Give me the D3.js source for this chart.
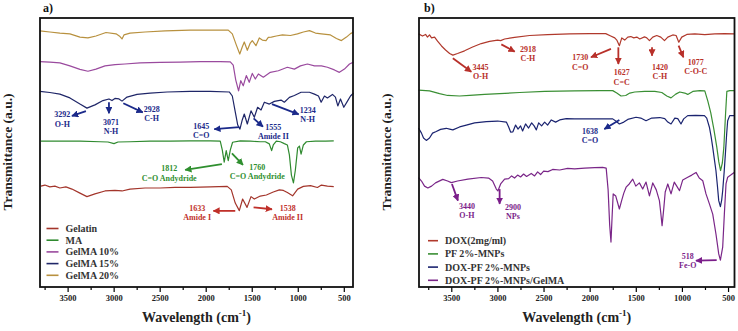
<!DOCTYPE html>
<html>
<head>
<meta charset="utf-8">
<script src="https://cdn.jsdelivr.net/npm/d3@7"></script>
<style>
  body { margin: 0; background: #fff; }
  svg text { font-family: "Liberation Serif", "Times New Roman", serif; font-weight: bold; }
</style>
</head>
<body>
<div id="chart"></div>
<script>
// ---- panel a) spectra: [wavenumber, transmittance a.u.]
const gelatin = [[3790,37.5],[3747,37.9],[3693,37.2],[3638,37.5],[3584,36.8],[3519,37.2],[3453,36.4],[3366,34.9],[3290,33.6],[3203,34.6],[3094,35.7],[2986,35.9],[2909,35.7],[2822,36.4],[2659,36.8],[2495,36.8],[2332,37.0],[2169,37.0],[1951,37.2],[1766,37.4],[1722,36.1],[1679,31.2],[1635,28.4],[1599,32.7],[1551,29.6],[1508,33.6],[1472,32.7],[1407,33.8],[1341,34.2],[1266,35.3],[1200,36.1],[1156,35.9],[1113,35.1],[1056,33.9],[1001,36.4],[939,37.4],[862,37.7],[786,37.0],[743,37.9],[678,37.5],[609,37.3]];
const ma = [[3790,54.2],[3584,54.2],[3366,54.2],[3148,54.0],[3062,53.9],[2996,53.3],[2953,53.9],[2822,54.0],[2604,54.2],[2386,54.2],[2169,54.3],[1951,54.3],[1842,54.2],[1820,51.0],[1799,46.4],[1777,50.7],[1755,47.0],[1733,50.9],[1708,53.8],[1624,54.3],[1516,54.2],[1407,54.0],[1352,54.0],[1309,53.2],[1284,50.7],[1266,52.8],[1233,54.2],[1189,54.0],[1146,53.3],[1113,52.8],[1091,49.1],[1069,41.6],[1047,38.7],[1026,43.5],[1001,51.7],[982,52.4],[964,49.4],[939,52.8],[906,54.0],[808,54.2],[699,54.2],[609,54.3]];
const gelma10 = [[3801,83.8],[3693,83.6],[3584,83.3],[3475,82.2],[3366,80.9],[3279,80.2],[3192,81.0],[3094,82.2],[2985,82.7],[2877,82.9],[2713,83.3],[2495,83.5],[2278,83.6],[2060,83.8],[1842,83.8],[1733,83.7],[1701,82.5],[1674,77.0],[1643,72.9],[1619,76.7],[1592,74.8],[1559,78.6],[1527,76.1],[1494,79.4],[1461,77.3],[1428,79.2],[1374,78.0],[1298,79.8],[1211,80.4],[1113,81.7],[1037,81.0],[971,82.2],[895,82.9],[819,82.2],[743,82.2],[678,81.7],[602,80.7],[548,79.8],[493,81.0],[438,82.9],[394,83.6]];
const gelma15 = [[3801,72.7],[3693,72.3],[3584,71.7],[3475,70.3],[3366,68.0],[3290,66.5],[3203,67.7],[3116,69.3],[3051,69.9],[3018,69.3],[2986,70.1],[2942,69.9],[2909,69.1],[2855,70.6],[2746,71.6],[2604,72.1],[2419,72.5],[2169,72.7],[1951,72.7],[1744,72.5],[1711,71.0],[1679,65.1],[1652,60.2],[1628,58.7],[1603,62.1],[1581,64.3],[1548,60.6],[1508,65.5],[1472,63.1],[1436,66.8],[1399,65.8],[1363,68.7],[1309,68.0],[1254,69.0],[1182,69.5],[1146,68.7],[1091,70.5],[1037,71.2],[964,72.4],[873,72.4],[819,71.7],[775,71.0],[746,68.7],[710,71.0],[678,70.3],[623,71.6],[591,70.6],[565,67.3],[536,69.9],[500,66.8],[460,69.1],[427,71.0],[394,72.1]];
const gelma20 = [[3801,95.2],[3693,94.8],[3584,94.4],[3475,94.1],[3366,92.9],[3279,92.6],[3192,93.3],[3083,94.6],[2974,94.1],[2931,93.1],[2909,92.2],[2888,93.7],[2822,94.4],[2659,94.8],[2441,95.2],[2169,95.5],[1951,95.5],[1755,95.5],[1711,94.1],[1668,90.0],[1630,86.6],[1603,89.2],[1581,91.1],[1548,88.0],[1516,90.7],[1494,91.6],[1454,89.7],[1418,92.6],[1385,91.8],[1345,91.6],[1320,92.8],[1287,92.9],[1233,93.3],[1167,93.7],[1080,93.5],[1004,94.1],[939,94.8],[873,95.3],[808,94.4],[743,94.1],[645,93.7],[580,92.4],[526,91.6],[471,92.9],[427,94.2],[394,94.8]];

// ---- panel b) spectra
const dox = [[3855,94.1],[3812,93.3],[3779,93.9],[3758,92.9],[3736,93.7],[3714,92.6],[3681,92.9],[3649,91.4],[3606,89.6],[3562,88.1],[3518,86.8],[3483,86.2],[3432,86.8],[3356,87.8],[3269,89.2],[3175,90.5],[3085,91.3],[2998,91.8],[2965,91.6],[2922,92.2],[2814,92.8],[2651,93.5],[2456,93.8],[2217,94.1],[2000,94.2],[1826,94.2],[1772,93.3],[1728,92.6],[1706,91.8],[1678,89.7],[1652,92.6],[1620,91.8],[1587,92.9],[1554,93.1],[1522,92.6],[1489,92.9],[1457,92.2],[1406,93.0],[1381,92.6],[1352,91.6],[1316,92.9],[1273,93.5],[1229,92.9],[1189,91.6],[1153,92.9],[1099,93.7],[1063,93.5],[1034,91.0],[1002,92.9],[947,93.9],[860,94.1],[752,93.8],[643,94.1],[535,94.2],[433,94.1]];
const pfMnp = [[3855,73.2],[3736,72.9],[3627,71.9],[3540,71.2],[3410,71.0],[3301,71.2],[3139,71.6],[2976,71.9],[2759,72.3],[2488,72.7],[2163,72.9],[1891,73.0],[1750,73.0],[1706,72.1],[1660,71.0],[1609,71.2],[1565,72.1],[1511,72.5],[1403,72.7],[1294,72.7],[1218,72.3],[1164,71.0],[1118,70.3],[1067,71.7],[1023,72.5],[969,72.1],[937,71.6],[882,72.7],[806,73.0],[752,72.9],[719,69.1],[687,64.7],[654,58.7],[622,52.0],[600,46.5],[581,43.3],[562,46.1],[546,51.7],[527,64.3],[513,72.7],[481,73.0],[433,73.0]];
const doxPf = [[3855,59.1],[3823,57.2],[3801,55.4],[3771,54.5],[3736,55.4],[3703,57.2],[3663,57.8],[3616,58.6],[3554,59.0],[3518,58.7],[3483,58.4],[3410,59.5],[3337,60.2],[3247,61.0],[3120,61.5],[2998,61.7],[2903,61.3],[2878,59.5],[2857,57.6],[2832,57.7],[2803,60.2],[2776,58.7],[2749,59.9],[2727,58.0],[2695,60.6],[2662,59.1],[2629,61.0],[2602,59.9],[2578,58.4],[2553,61.0],[2521,59.9],[2488,61.3],[2456,60.2],[2416,62.1],[2369,61.3],[2325,62.1],[2253,62.6],[2163,62.5],[2000,62.5],[1837,62.5],[1750,62.5],[1717,61.7],[1678,60.6],[1630,61.3],[1587,62.3],[1497,63.1],[1446,62.8],[1389,61.8],[1327,62.8],[1240,63.0],[1186,62.6],[1153,61.3],[1118,60.6],[1077,62.8],[1045,62.6],[1010,60.6],[981,62.5],[937,63.7],[850,63.8],[756,63.7],[731,62.8],[702,59.4],[683,55.8],[666,51.9],[650,47.9],[631,43.2],[616,37.9],[601,32.1],[583,29.9],[569,32.3],[558,35.8],[542,42.8],[529,49.4],[515,56.9],[504,61.8],[482,63.7],[433,63.7]];
const doxPfGelma = [[3855,40.7],[3823,39.4],[3790,37.5],[3754,36.8],[3714,37.5],[3671,38.7],[3592,40.0],[3540,39.4],[3500,38.8],[3432,39.4],[3320,40.1],[3175,40.7],[3096,40.5],[3052,39.4],[3012,36.4],[2995,35.7],[2965,38.3],[2922,40.1],[2878,40.3],[2846,41.3],[2814,40.5],[2781,41.6],[2749,40.9],[2716,42.0],[2684,41.1],[2633,42.2],[2597,41.3],[2564,42.8],[2532,41.8],[2499,43.1],[2452,42.9],[2401,43.7],[2325,43.5],[2239,44.1],[2163,43.9],[2054,44.2],[1946,44.4],[1859,44.5],[1821,44.2],[1800,36.1],[1783,23.0],[1769,16.7],[1756,26.8],[1745,34.6],[1717,33.8],[1678,29.0],[1652,32.3],[1630,34.9],[1605,37.1],[1571,38.3],[1533,40.1],[1500,37.5],[1461,38.7],[1425,36.4],[1389,39.0],[1352,33.9],[1316,38.7],[1278,36.1],[1244,32.1],[1229,27.5],[1215,22.8],[1196,29.4],[1181,35.3],[1153,38.3],[1118,34.6],[1083,39.0],[1056,37.5],[1026,35.8],[991,39.8],[937,40.8],[893,41.6],[847,42.6],[812,40.5],[774,39.5],[739,34.6],[702,30.9],[666,27.1],[631,19.7],[601,12.3],[583,10.0],[558,14.8],[540,27.1],[522,38.3],[504,40.8],[471,41.6],[433,42.6]];

const namesA = ["Gelatin", "MA", "GelMA 10%", "GelMA 15%", "GelMA 20%"];
const namesB = ["DOX(2mg/ml)", "PF 2%-MNPs", "DOX-PF 2%-MNPs", "DOX-PF 2%-MNPs/GelMA"];
const majorTicks = [3500, 3000, 2500, 2000, 1500, 1000, 500];
const minorTicks = [3750, 3250, 2750, 2250, 1750, 1250, 750];

// peak labels: text lines, label anchor and arrow (from, to) in data units
const notesA = [
  { t: ["3292", "O-H"], at: [3557, 64.3], from: [3301, 65.4], to: [3453, 63.6], c: "#1b2a8a" },
  { t: ["3071", "N-H"], at: [3029, 61.4], from: [3051, 68.7], to: [3051, 64.6], c: "#1b2a8a" },
  { t: ["2928", "C-H"], at: [2587, 66.2], from: [2895, 68.3], to: [2684, 64.9], c: "#1b2a8a" },
  { t: ["1645", "C=O"], at: [2049, 60.0], from: [1635, 59.4], to: [1907, 58.7], c: "#1b2a8a" },
  { t: ["1555", "Amide II"], at: [1265, 59.6], from: [1480, 62.7], to: [1378, 59.6], c: "#1b2a8a" },
  { t: ["1234", "N-H"], at: [892, 65.8], from: [1280, 68.0], to: [990, 64.2], c: "#1b2a8a" },
  { t: ["1812", "C=O Andydride"], at: [2397, 44.1], from: [1824, 45.7], to: [2223, 43.5], c: "#2f8f2f" },
  { t: ["1760", "C=O Andydride"], at: [1440, 44.7], from: [1715, 49.7], to: [1595, 45.4], c: "#2f8f2f" },
  { t: ["1633", "Amide I"], at: [2093, 29.5], from: [1679, 28.3], to: [1917, 28.3], c: "#c0302a" },
  { t: ["1538", "Amide II"], at: [1110, 29.5], from: [1480, 29.6], to: [1280, 28.9], c: "#c0302a" }
];
const notesB = [
  { t: ["3445", "O-H"], at: [3182, 81.8], from: [3483, 85.0], to: [3283, 80.0], c: "#b8302a" },
  { t: ["2918", "C-H"], at: [2669, 88.5], from: [2958, 90.2], to: [2813, 87.5], c: "#b8302a" },
  { t: ["1730", "C=O"], at: [2103, 85.5], from: [1769, 88.5], to: [1986, 85.4], c: "#b8302a" },
  { t: ["1627", "C=C"], at: [1653, 79.8], from: [1689, 89.1], to: [1689, 82.9], c: "#b8302a" },
  { t: ["1420", "C-H"], at: [1238, 81.9], from: [1324, 89.1], to: [1324, 86.0], c: "#b8302a" },
  { t: ["1077", "C-O-C"], at: [850, 83.8], from: [1036, 89.7], to: [984, 85.4], c: "#b8302a" },
  { t: ["1638", "C=O"], at: [1997, 58.1], from: [1678, 62.1], to: [1841, 58.7], c: "#1b2a8a" },
  { t: ["3440", "O-H"], at: [3331, 30.2], from: [3493, 38.3], to: [3428, 32.1], c: "#7b1e8a" },
  { t: ["2900", "NPs"], at: [2832, 29.9], from: [2976, 36.4], to: [2976, 30.9], c: "#7b1e8a" },
  { t: ["518", "Fe-O"], at: [937, 11.6], from: [623, 10.0], to: [848, 9.8], c: "#7b1e8a" }
];

const W = 738, H = 331;
const svg = d3.select("#chart").append("svg")
  .attr("width", W).attr("height", H)
  .attr("viewBox", [0, 0, W, H]);

const defs = svg.append("defs");
const markerColors = ["#1b2a8a", "#2f8f2f", "#c0302a", "#b8302a", "#7b1e8a"];
markerColors.forEach(c => {
  defs.append("marker")
    .attr("id", "arr" + c.slice(1))
    .attr("viewBox", "0 0 10 10")
    .attr("refX", 9).attr("refY", 5)
    .attr("markerWidth", 7).attr("markerHeight", 7)
    .attr("markerUnits", "userSpaceOnUse")
    .attr("orient", "auto")
    .append("path")
    .attr("d", "M0,0 L10,5 L0,10 z")
    .attr("fill", c);
});

const y = d3.scaleLinear().domain([0, 100]).range([287, 18]);

function panel(opt) {
  const x = d3.scaleLinear().domain(opt.domain).range([opt.left, opt.right]);
  const g = svg.append("g");

  // axes
  g.append("g")
    .attr("transform", `translate(0,${y.range()[0]})`)
    .call(d3.axisBottom(x).tickValues(minorTicks).tickSize(3).tickFormat(""))
    .call(a => a.select(".domain").remove())
    .call(a => a.selectAll("line").attr("stroke", "#000").attr("stroke-width", 1.2));
  g.append("g")
    .attr("transform", `translate(0,${y.range()[0]})`)
    .call(d3.axisBottom(x).tickValues(majorTicks).tickSize(5).tickPadding(3).tickFormat(d3.format("d")))
    .call(a => a.select(".domain").remove())
    .call(a => a.selectAll("line").attr("stroke", "#000").attr("stroke-width", 1.2))
    .call(a => a.selectAll("text").attr("font-size", 8.5).attr("fill", "#222")
      .attr("font-family", "Liberation Serif, serif").attr("font-weight", "bold"));

  // spectra
  const line = d3.line().x(d => x(d[0])).y(d => y(d[1]));
  opt.series.forEach((s, i) => {
    g.append("path").datum(s)
      .attr("fill", "none")
      .attr("stroke", opt.colors[i])
      .attr("stroke-width", 1.2)
      .attr("stroke-linejoin", "round")
      .attr("d", line);
  });

  // frame
  g.append("rect")
    .attr("x", opt.left).attr("y", y.range()[1])
    .attr("width", opt.right - opt.left)
    .attr("height", y.range()[0] - y.range()[1])
    .attr("fill", "none").attr("stroke", "#111").attr("stroke-width", 1.8);

  // peak labels
  opt.notes.forEach(n => {
    g.append("line")
      .attr("x1", x(n.from[0])).attr("y1", y(n.from[1]))
      .attr("x2", x(n.to[0])).attr("y2", y(n.to[1]))
      .attr("stroke", n.c).attr("stroke-width", 1.8)
      .attr("marker-end", `url(#arr${n.c.slice(1)})`);
    const tx = g.append("text")
      .attr("x", x(n.at[0])).attr("y", y(n.at[1]))
      .attr("text-anchor", "middle")
      .attr("font-size", 8).attr("fill", n.c);
    n.t.forEach((s, k) => {
      tx.append("tspan").attr("x", x(n.at[0])).attr("dy", k ? 9.5 : 3).text(s);
    });
  });

  // legend
  const lg = g.append("g");
  opt.names.forEach((nm, i) => {
    const ly = opt.legTop + i * opt.legStep;
    lg.append("line")
      .attr("x1", opt.legX).attr("x2", opt.legX + opt.legLen)
      .attr("y1", ly).attr("y2", ly)
      .attr("stroke", opt.colors[i]).attr("stroke-width", 1.6);
    lg.append("text")
      .attr("x", opt.legX + opt.legLen + 7).attr("y", ly + 3.5)
      .attr("font-size", 10).attr("fill", "#333").text(nm);
  });

  // titles
  g.append("text")
    .attr("x", opt.tagX).attr("y", 12)
    .attr("font-size", 12).attr("fill", "#111").text(opt.tag);
  g.append("text")
    .attr("transform", `translate(${opt.left - 28},152) rotate(-90)`)
    .attr("text-anchor", "middle")
    .attr("font-size", 13.5).attr("fill", "#222")
    .text("Transmittance (a.u.)");
  const xl = g.append("text")
    .attr("x", (opt.left + opt.right) / 2).attr("y", 322)
    .attr("text-anchor", "middle")
    .attr("font-size", 14).attr("fill", "#222");
  xl.append("tspan").text("Wavelength (cm");
  xl.append("tspan").attr("dy", -6).attr("font-size", 9).text("-1");
  xl.append("tspan").attr("dy", 6).text(")");
}

panel({
  domain: [3800, 400], left: 40, right: 353,
  series: [gelatin, ma, gelma10, gelma15, gelma20],
  colors: ["#a3352b", "#2f8a2f", "#9a4a9e", "#1f2668", "#b8913f"],
  names: namesA, notes: notesA,
  legX: 46.5, legLen: 12, legTop: 228.5, legStep: 11.7,
  tag: "a)", tagX: 43
});

panel({
  domain: [3850, 430], left: 419, right: 734.5,
  series: [dox, pfMnp, doxPf, doxPfGelma],
  colors: ["#b0392c", "#3a8f34", "#1b2470", "#7a2688"],
  names: namesB, notes: notesB,
  legX: 428, legLen: 10, legTop: 240.7, legStep: 13.2,
  tag: "b)", tagX: 424
});
</script>
</body>
</html>
